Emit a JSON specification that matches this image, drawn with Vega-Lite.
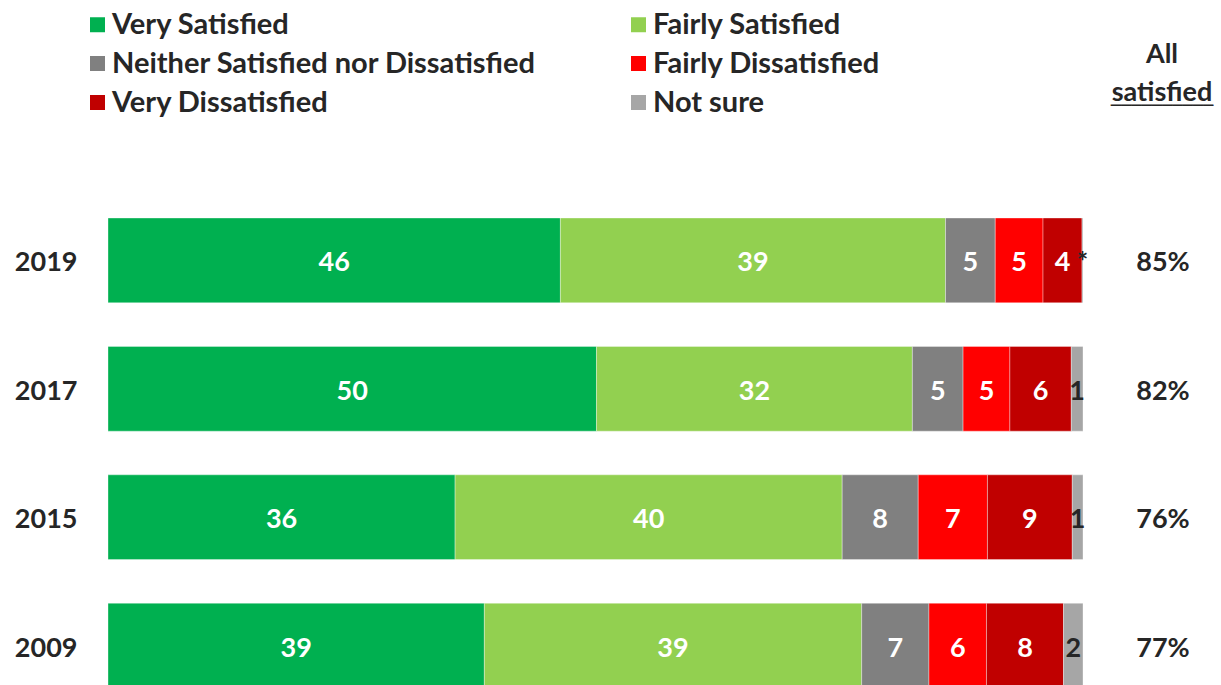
{
  "$schema": "https://vega.github.io/schema/vega-lite/v6.json",
  "autosize": "none",
  "width": 975,
  "height": 470,
  "padding": {"left": 108, "top": 218, "right": 138, "bottom": 0},
  "background": "white",
  "config": {
    "font": "Lato",
    "view": {"stroke": null},
    "text": {"font": "Lato"}
  },
  "title": {
    "text": ["All", "satisfied"],
    "subtitle": "──────────",
    "subtitleFont": "DejaVu Sans Mono",
    "subtitleFontSize": 17,
    "subtitleColor": "#262626",
    "subtitlePadding": -9,
    "subtitleLineHeight": 17,
    "anchor": "end",
    "align": "center",
    "frame": "group",
    "dx": 79,
    "dy": 105,
    "offset": 0,
    "fontSize": 27,
    "fontWeight": "bold",
    "color": "#262626",
    "lineHeight": 38,
    "font": "Lato"
  },
  "datasets": {
    "bars": [
      {"year": "2019", "category": "Very Satisfied", "order": 1, "value": 46.4, "label": "46"},
      {"year": "2019", "category": "Fairly Satisfied", "order": 2, "value": 39.5, "label": "39"},
      {"year": "2019", "category": "Neither Satisfied nor Dissatisfied", "order": 3, "value": 5.1, "label": "5"},
      {"year": "2019", "category": "Fairly Dissatisfied", "order": 4, "value": 4.9, "label": "5"},
      {"year": "2019", "category": "Very Dissatisfied", "order": 5, "value": 4.0, "label": "4"},
      {"year": "2019", "category": "Not sure", "order": 6, "value": 0.1, "label": "*"},
      {"year": "2017", "category": "Very Satisfied", "order": 1, "value": 50.1, "label": "50"},
      {"year": "2017", "category": "Fairly Satisfied", "order": 2, "value": 32.4, "label": "32"},
      {"year": "2017", "category": "Neither Satisfied nor Dissatisfied", "order": 3, "value": 5.2, "label": "5"},
      {"year": "2017", "category": "Fairly Dissatisfied", "order": 4, "value": 4.8, "label": "5"},
      {"year": "2017", "category": "Very Dissatisfied", "order": 5, "value": 6.3, "label": "6"},
      {"year": "2017", "category": "Not sure", "order": 6, "value": 1.2, "label": "1"},
      {"year": "2015", "category": "Very Satisfied", "order": 1, "value": 35.6, "label": "36"},
      {"year": "2015", "category": "Fairly Satisfied", "order": 2, "value": 39.7, "label": "40"},
      {"year": "2015", "category": "Neither Satisfied nor Dissatisfied", "order": 3, "value": 7.8, "label": "8"},
      {"year": "2015", "category": "Fairly Dissatisfied", "order": 4, "value": 7.1, "label": "7"},
      {"year": "2015", "category": "Very Dissatisfied", "order": 5, "value": 8.7, "label": "9"},
      {"year": "2015", "category": "Not sure", "order": 6, "value": 1.1, "label": "1"},
      {"year": "2009", "category": "Very Satisfied", "order": 1, "value": 38.6, "label": "39"},
      {"year": "2009", "category": "Fairly Satisfied", "order": 2, "value": 38.7, "label": "39"},
      {"year": "2009", "category": "Neither Satisfied nor Dissatisfied", "order": 3, "value": 6.9, "label": "7"},
      {"year": "2009", "category": "Fairly Dissatisfied", "order": 4, "value": 5.9, "label": "6"},
      {"year": "2009", "category": "Very Dissatisfied", "order": 5, "value": 7.9, "label": "8"},
      {"year": "2009", "category": "Not sure", "order": 6, "value": 2.0, "label": "2"}
    ],
    "totals": [
      {"year": "2019", "all": "85%"},
      {"year": "2017", "all": "82%"},
      {"year": "2015", "all": "76%"},
      {"year": "2009", "all": "77%"}
    ]
  },
  "layer": [
    {
      "data": {"name": "bars"},
      "mark": {"type": "bar", "stroke": "white", "strokeOpacity": 0.35, "strokeWidth": 1},
      "encoding": {
        "y": {
          "field": "year", "type": "nominal",
          "sort": ["2019", "2017", "2015", "2009"],
          "scale": {"paddingInner": 0.34, "paddingOuter": 0},
          "axis": {
            "title": null, "domain": false, "ticks": false,
            "labelFontSize": 27, "labelFontWeight": "bold", "labelColor": "#262626",
            "labelPadding": 31, "labelFont": "Lato", "labelOffset": 3
          }
        },
        "x": {
          "field": "value", "type": "quantitative", "stack": "zero",
          "scale": {"domain": [0, 100], "nice": false, "zero": true},
          "axis": null
        },
        "order": {"field": "order", "type": "quantitative"},
        "color": {
          "field": "category", "type": "nominal",
          "scale": {
            "domain": ["Very Satisfied", "Fairly Satisfied", "Neither Satisfied nor Dissatisfied", "Fairly Dissatisfied", "Very Dissatisfied", "Not sure"],
            "range": ["#00B050", "#92D050", "#808080", "#FF0000", "#C00000", "#A6A6A6"]
          },
          "legend": {
            "title": null,
            "orient": "none",
            "direction": "horizontal",
            "legendX": -25,
            "legendY": -208,
            "padding": 0,
            "columns": 2,
            "symbolType": "square",
            "symbolSize": 225,
            "symbolStrokeWidth": 0,
            "labelFontSize": 29,
            "labelFontWeight": "bold",
            "labelColor": "#262626",
            "labelFont": "Lato",
            "labelLimit": 700,
            "labelOffset": 0,
            "rowPadding": 9,
            "columnPadding": 87
          }
        }
      }
    },
    {
      "data": {"name": "bars"},
      "transform": [
        {"stack": "value", "groupby": ["year"], "sort": [{"field": "order"}], "as": ["v0", "v1"]},
        {"calculate": "(datum.v0 + datum.v1) / 2", "as": "mid"}
      ],
      "mark": {"type": "text", "fontSize": 27, "fontWeight": "bold", "font": "Lato", "dy": 3},
      "encoding": {
        "y": {"field": "year", "type": "nominal", "sort": ["2019", "2017", "2015", "2009"]},
        "x": {"field": "mid", "type": "quantitative"},
        "text": {"field": "label"},
        "color": {
          "condition": {"test": "datum.category === 'Not sure'", "value": "#262626"},
          "value": "white"
        }
      }
    },
    {
      "data": {"name": "totals"},
      "mark": {"type": "text", "fontSize": 27, "fontWeight": "bold", "font": "Lato", "color": "#262626", "clip": false, "dy": 3},
      "encoding": {
        "y": {"field": "year", "type": "nominal", "sort": ["2019", "2017", "2015", "2009"]},
        "x": {"datum": 108.2, "type": "quantitative"},
        "text": {"field": "all"}
      }
    }
  ]
}
